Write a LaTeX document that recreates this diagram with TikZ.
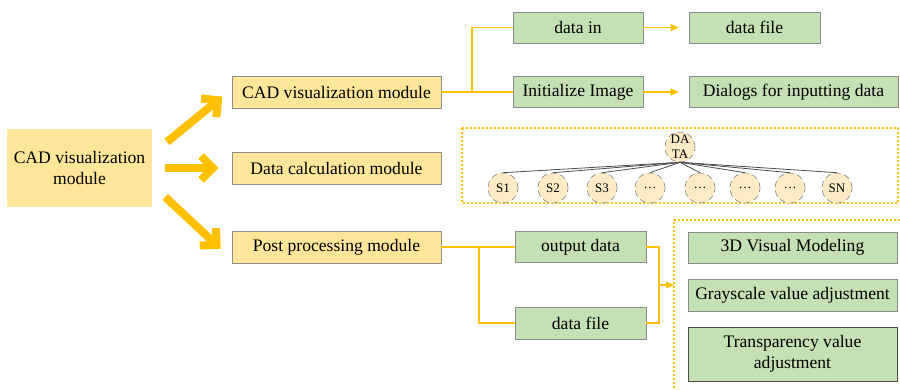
\documentclass[tikz,border=0pt]{standalone}
\usepackage{fontspec}
\setmainfont{Liberation Serif}
\usepackage{tikz}
\usetikzlibrary{arrows.meta}
\definecolor{mod-yellow}{HTML}{FFE699}
\definecolor{sub-green}{HTML}{C5E0B4}
\definecolor{line-orange}{HTML}{FFC000}
\definecolor{leaf-cream}{HTML}{FDEBC6}

\begin{document}
\begin{tikzpicture}[x=0.5pt, y=-0.5pt, font=\fontsize{8.8}{10.5}\selectfont,
 modbox/.style={fill=mod-yellow, draw=black!45, line width=0.3pt, minimum width=104.5pt, minimum height=16pt, inner sep=1pt},
 subbox/.style={fill=sub-green, draw=black!45, line width=0.3pt, minimum height=15.5pt, inner sep=0.5pt},
 leaf/.style={circle, fill=leaf-cream, draw=black!50, densely dashed, line width=0.3pt, minimum size=15pt, inner sep=0pt, font=\fontsize{6.5}{7.5}\selectfont},
 conn/.style={line-orange, line width=0.6pt},
 smallarrow/.style={conn, -{Triangle[length=4pt,width=3.5pt]}},
 bigarrow/.style={line-orange, line width=4pt, -{Straight Barb[length=6pt,width=12pt]}},
 dashbox/.style={line-orange, line width=1pt, densely dotted}]
 \useasboundingbox (0,0) rectangle (900,390);

 % modules
 \node[modbox, minimum width=72.5pt, minimum height=39pt, draw=none, align=center] (cadleft) at (79.5,168) {CAD visualization\\module};
 \node[modbox] (cadvis) at (336.5,92) {CAD visualization module};
 \node[modbox] (datacalc) at (336.5,168) {Data calculation module};
 \node[modbox] (post) at (336.5,247) {Post processing module};

 \draw[bigarrow, shorten <=9.5pt, shorten >=6pt] ([yshift=7pt]cadleft.east) -- ([yshift=1.5pt]cadvis.west);
 \draw[bigarrow, shorten <=6.5pt, shorten >=6.5pt] (cadleft.east) -- (datacalc.west);
 \draw[bigarrow, shorten <=8.8pt, shorten >=7.5pt] ([yshift=-8.5pt]cadleft.east) -- ([yshift=-6pt]post.west);

 % visualization branch
 \node[subbox, minimum width=65pt] (datain) at (578,27.5) {data in};
 \node[subbox, minimum width=65.5pt] (datafile) at (754.5,27.5) {data file};
 \node[subbox, minimum width=65pt] (initimg) at (578,92) {Initialize Image};
 \node[subbox, minimum width=104.5pt] (dialogs) at (793.5,92) {Dialogs for inputting data};

 \coordinate (jtop) at (472,92);
 \draw[conn] (cadvis.east) -- (jtop) |- (datain.west);
 \draw[conn] (jtop) -- (initimg.west);
 \draw[smallarrow, shorten >=5pt] (datain.east) -- (datafile.west);
 \draw[smallarrow, shorten >=5pt] (initimg.east) -- (dialogs.west);

 % calculation tree
 \draw[dashbox] (462,128) rectangle (898,203);
 \node[leaf, align=center] (data) at (680,147) {DA\\TA};
 \foreach \x/\lab [count=\i] in {503/S1,553/S2,602/S3,650/\ldots,700/\ldots,745/\ldots,790/\ldots,837/SN}
  \node[leaf] (s\i) at (\x,188) {\lab};
 \foreach \i in {1,...,8}
  \draw[black!70, line width=0.4pt] (data.south) -- (s\i.north);

 % post processing branch
 \node[subbox, minimum width=65.5pt] (outdata) at (580.5,247) {output data};
 \node[subbox, minimum width=65.5pt, minimum height=16pt] (postfile) at (580.5,323) {data file};
 \node[subbox, minimum width=104.5pt] (visual) at (792.5,247.5) {3D Visual Modeling};
 \node[subbox, minimum width=104.5pt, minimum height=16pt] (grayval) at (792.5,295) {Grayscale value adjustment};
 \node[subbox, minimum width=104.5pt, minimum height=27pt, align=center, draw=black!70] (transval) at (792.5,354) {Transparency value\\adjustment};

 \coordinate (jbot) at (479,247);
 \coordinate (jright) at (659,285);
 \coordinate (panel) at (674,285);
 \draw[conn] (post.east) -- (outdata.west);
 \draw[conn] (jbot) |- (postfile.west);
 \draw[conn] (outdata.east) -| (jright) |- (postfile.east);
 \draw[smallarrow] (jright) -- (panel);
 \draw[dashbox] (900,220) -- (674,220) -- (674,390);
\end{tikzpicture}
\end{document}
